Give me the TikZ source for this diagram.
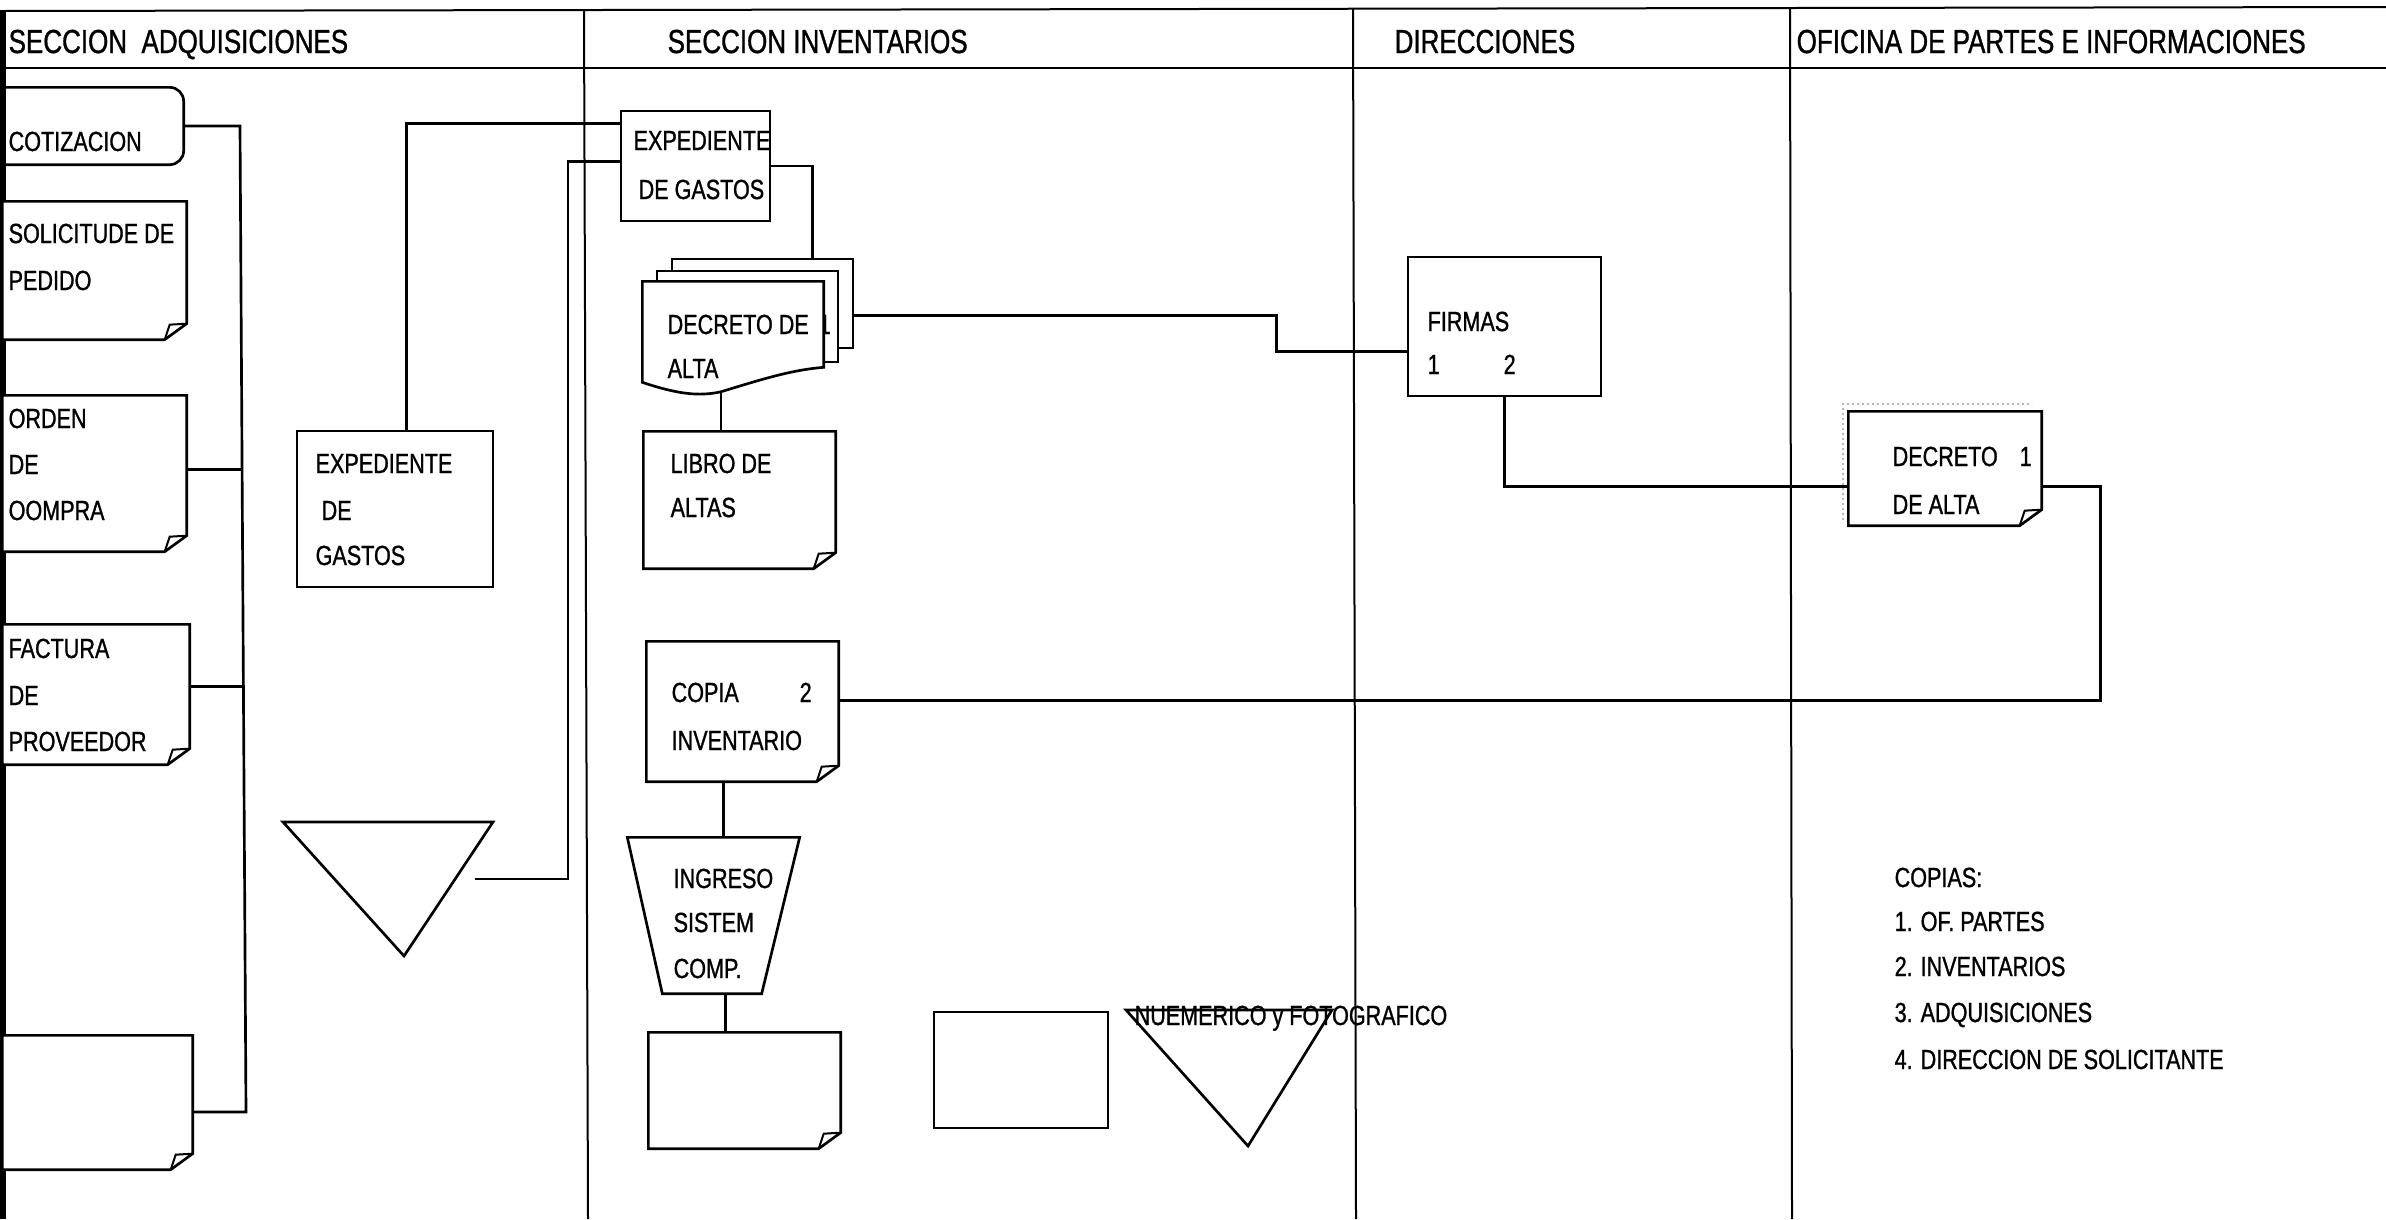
\documentclass[tikz,border=0pt]{standalone}
\usepackage{fontspec}
\setmainfont{Liberation Sans}[FakeStretch=0.78, FakeBold=1]
\usetikzlibrary{fit,calc}
\tikzset{
  shp/.style={line width=0.8pt, line join=miter},
  con/.style={line width=0.8pt},
  lane/.style={line width=0.6pt},
  area/.style={fit={#1}, inner sep=0pt, draw=none},
  bt/.style={anchor=base west, inner sep=0pt, font=\fontsize{8.3}{9}\selectfont},
  ht/.style={anchor=base west, inner sep=0pt, font=\fontsize{10}{11}\selectfont},
}
\newcommand\docpath[1]{%
  \draw[shp, fill=white] (#1.north west) -- (#1.north east) -- ($(#1.south east)+(0,-16)$) -- ($(#1.south east)+(-22,0)$) -- (#1.south west) -- cycle;
  \draw[shp, line width=0.6pt] ($(#1.south east)+(-22,0)$) -- ($(#1.south east)+(-17,-15)$) -- ($(#1.south east)+(0,-16)$);}
\begin{document}
\begin{tikzpicture}[x=0.3pt,y=-0.3pt]
\useasboundingbox (0,0) rectangle (2386,1219);
% ---------- frame ----------
\draw[lane] (0,11) -- (2386,7);
\draw[lane] (0,68) -- (2386,68);
\draw[lane] (584,11) -- (588,1219);
\draw[lane] (1353,9) -- (1356,1219);
\draw[lane] (1790,8) -- (1792,1219);
\draw[line width=1.8pt] (3,11) -- (3,1219);
% ---------- headers ----------
\node[ht] (h1) at (8,53) {SECCION~~ADQUISICIONES};
\node[ht] (h2) at (667,53) {SECCION INVENTARIOS};
\node[ht] (h3) at (1394,53) {DIRECCIONES};
\node[ht] (h4) at (1796,53) {OFICINA DE PARTES E INFORMACIONES};
% ---------- Seccion adquisiciones ----------
\node[area={(3,88) (183,164)}] (cot) {};
\draw[shp, rounded corners=4.2pt] (cot.north west) -- (cot.north east) -- (cot.south east) -- (cot.south west);
\node[bt] (cott) at (8,151) {COTIZACION};

\node[area={(3,202) (186,339)}] (sol) {}; \docpath{sol}
\node[bt] (solt1) at (8,243) {SOLICITUDE DE};
\node[bt] (solt2) at (8,290) {PEDIDO};

\node[area={(3,396) (186,551)}] (ord) {}; \docpath{ord}
\node[bt] (ordt1) at (8,428) {ORDEN};
\node[bt] (ordt2) at (8,474) {DE};
\node[bt] (ordt3) at (8,520) {OOMPRA};

\node[area={(3,625) (189,764)}] (fac) {}; \docpath{fac}
\node[bt] (fact1) at (8,658) {FACTURA};
\node[bt] (fact2) at (8,705) {DE};
\node[bt] (fact3) at (8,751) {PROVEEDOR};

\node[area={(3,1036) (192,1169)}] (emp1) {}; \docpath{emp1}

\node[area={(297,431) (493,587)}, draw, shp] (exa) {};
\node[bt] (exat1) at (315,473) {EXPEDIENTE};
\node[bt] (exat2) at (321,520) {DE};
\node[bt] (exat3) at (315,565) {GASTOS};

\coordinate (t1a) at (283,822);
\coordinate (t1b) at (493,822);
\coordinate (t1c) at (404,956);
\draw[shp] (t1a) -- (t1b) -- (t1c) -- cycle;
\coordinate (t1o) at (475,879);

% ---------- Seccion inventarios ----------
\node[area={(621,111) (770,221)}, draw, shp] (exi) {};
\node[bt] (exit1) at (633,150) {EXPEDIENTE};
\node[bt] (exit2) at (638,199) {DE GASTOS};

\node[area={(672,259) (853,348)}, draw, shp, fill=white] (decb) {};
\node[area={(657,271) (838,362)}, draw, shp, fill=white] (decm) {};
\node[bt] (decone) at (818,334) {1};
\node[area={(643,282) (823,394)}] (decf) {};
\draw[shp, fill=white] (decf.north west) -- (decf.north east) -- ($(decf.north east)+(0,86)$)
  .. controls (790,370) and (760,380) .. (720,392)
  .. controls (700,396) and (680,395) .. ($(decf.north west)+(0,101)$) -- cycle;
\node[bt] (dect1) at (667,334) {DECRETO DE};
\node[bt] (dect2) at (667,378) {ALTA};
\coordinate (decfb) at (721,392);

\node[area={(644,432) (835,568)}] (lib) {}; \docpath{lib}
\node[bt] (libt1) at (670,473) {LIBRO DE};
\node[bt] (libt2) at (670,517) {ALTAS};

\node[area={(647,642) (838,781)}] (cop) {}; \docpath{cop}
\node[bt] (copt1) at (671,702) {COPIA};
\node[bt] (copt2) at (799,702) {2};
\node[bt] (copt3) at (671,750) {INVENTARIO};

\node[area={(628,838) (799,993)}] (ing) {};
\draw[shp] (ing.north west) -- (ing.north east) -- ($(ing.south east)+(-38,0)$) -- ($(ing.south west)+(35,0)$) -- cycle;
\node[bt] (ingt1) at (673,888) {INGRESO};
\node[bt] (ingt2) at (673,932) {SISTEM};
\node[bt] (ingt3) at (673,978) {COMP.};

\node[area={(649,1033) (840,1148)}] (emp2) {}; \docpath{emp2}
\node[area={(934,1012) (1108,1128)}, draw, shp] (rct) {};

\coordinate (t2a) at (1126,1010);
\coordinate (t2b) at (1332,1010);
\coordinate (t2c) at (1248,1146);
\draw[shp] (t2a) -- (t2b) -- (t2c) -- cycle;
\node[bt] (numt) at (1134,1025) {NUEMERICO y FOTOGRAFICO};

% ---------- Direcciones ----------
\node[area={(1408,257) (1601,396)}, draw, shp] (fir) {};
\node[bt] (firt1) at (1427,331) {FIRMAS};
\node[bt] (firt2) at (1427,374) {1};
\node[bt] (firt3) at (1503,374) {2};

% ---------- Oficina de partes ----------
\draw[gray!55, densely dotted, line width=0.5pt] (1843,520) -- (1843,404) -- (2032,404);
\node[area={(1849,412) (2041,525)}] (dcr) {}; \docpath{dcr}
\node[bt] (dcrt1) at (1892,466) {DECRETO};
\node[bt] (dcrt2) at (2019,466) {1};
\node[bt] (dcrt3) at (1892,514) {DE ALTA};

\node[bt] (lg0) at (1894,887) {COPIAS:};
\node[bt] (lg1) at (1894,931) {1. OF. PARTES};
\node[bt] (lg2) at (1894,976) {2. INVENTARIOS};
\node[bt] (lg3) at (1894,1022) {3. ADQUISICIONES};
\node[bt] (lg4) at (1894,1069) {4. DIRECCION DE SOLICITANTE};

% ---------- connectors ----------
\coordinate (bus1) at (240,126);
\coordinate (bus2) at (246,1112);
\draw[con] (cot.east) -- (bus1) -- (bus2) -- (bus2 -| emp1.east);
\draw[con] ($(ord.east)+(0,-4)$) -- ++(56,0);
\draw[con] ($(fac.east)+(0,-8)$) -- ++(55,0);

\draw[con] ($(exa.north west)+(111,0)$) |- ($(exi.north west)+(0,14)$);
\coordinate (j2) at (568,879);
\draw[con] (t1o) -- (j2) |- ($(exi.north west)+(0,52)$);
\draw[con] (exi.east) -| ($(decb.north west)+(142,0)$);
\draw[con] ($(decb.north east)+(0,58)$) -- ++(422,0) |- ($(fir.north west)+(0,96)$);
\draw[con] (decfb) -- (decfb |- lib.north);
\draw[con] ($(fir.south west)+(98,0)$) |- ($(dcr.north west)+(0,75)$);
\draw[con] ($(dcr.north east)+(0,75)$) -- ++(59,0) |- ($(cop.north east)+(0,59)$);
\draw[con] ($(cop.south west)+(77,0)$) -- ($(ing.north west)+(96,0)$);
\draw[con] ($(ing.south west)+(98,0)$) -- ($(emp2.north west)+(77,0)$);
\end{tikzpicture}
\end{document}
